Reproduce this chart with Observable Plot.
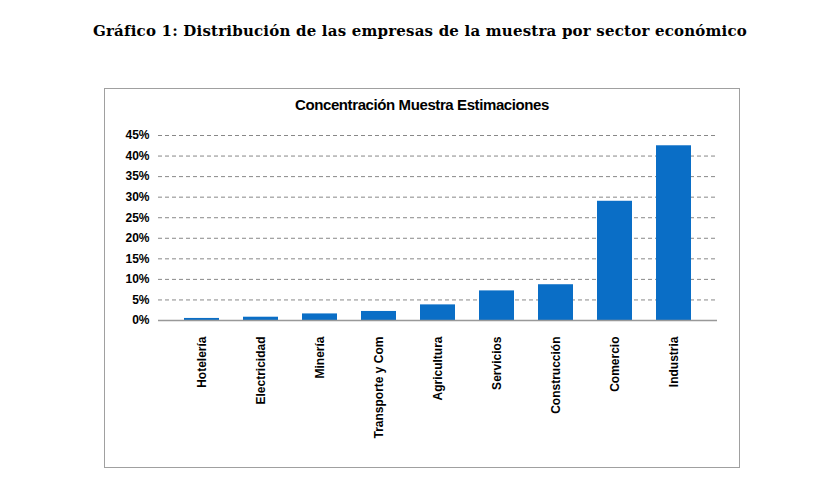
<!DOCTYPE html>
<html><head><meta charset="utf-8">
<script src="https://cdn.jsdelivr.net/npm/d3@7"></script>
<script src="https://cdn.jsdelivr.net/npm/@observablehq/plot@0.6"></script>
<style>
body{margin:0;background:#fff;width:840px;height:485px;position:relative;overflow:hidden}
#t{position:absolute;top:22px;left:0;width:840px;text-align:center;font:bold 15px "DejaVu Serif",serif;letter-spacing:0.2px}
#box{position:absolute;left:104px;top:88px;width:634px;height:378px;border:1px solid #a0a0a0}
#ct{position:absolute;top:7px;left:0;width:100%;text-align:center;font:bold 15px "Liberation Sans Narrow","Liberation Sans",sans-serif;letter-spacing:-0.4px}
</style></head><body>
<div id="t">Gráfico 1: Distribución de las empresas de la muestra por sector económico</div>
<div id="box"><div id="ct">Concentración Muestra Estimaciones</div><div id="chart"></div></div>
<script>
const sectores=["Hotelería","Electricidad","Minería","Transporte y Com","Agricultura","Servicios","Construcción","Comercio","Industria"];
const valores=[0.005,0.008,0.016,0.022,0.038,0.072,0.087,0.29,0.425];
const yTicks=[0,0.05,0.1,0.15,0.2,0.25,0.3,0.35,0.4,0.45];
const data=sectores.map((s,i)=>({s,v:valores[i]}));
const p=Plot.plot({
  width:634,height:378,marginLeft:53,marginRight:22,marginTop:46,marginBottom:147,
  style:{fontFamily:"Liberation Sans, sans-serif",fontWeight:"bold",fontSize:"12px",background:"transparent"},
  x:{domain:sectores,padding:0.4,label:null,tickRotate:-90,tickSize:0},
  y:{domain:[0,0.45],ticks:yTicks,tickFormat:d=>Math.round(d*100)+"%",label:null,tickSize:0},
  marks:[
    Plot.ruleY(yTicks.slice(1),{stroke:"#888",strokeDasharray:"4,3"}),
    Plot.barY(data,{x:"s",y:"v",fill:"#0a6ec6"}),
    Plot.ruleY([0],{stroke:"#999",strokeWidth:1.5}),
    Plot.axisX({tickRotate:-90,tickSize:0,tickPadding:16,label:null,fontSize:12})
  ]
});
document.getElementById("chart").appendChild(p);
</script></body></html>
